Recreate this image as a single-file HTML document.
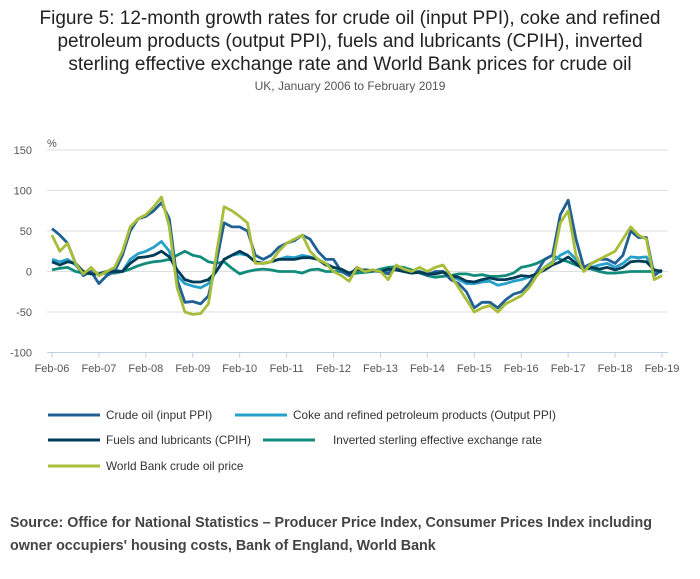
<!DOCTYPE html>
<html><head><meta charset="utf-8"><style>
body{margin:0;background:#fff;width:700px;height:574px;overflow:hidden;font-family:"Liberation Sans",sans-serif;}
</style></head><body>
<svg width="700" height="574" xmlns="http://www.w3.org/2000/svg">
<g font-size="19" fill="#222" text-anchor="middle">
<text x="350" y="24">Figure 5: 12-month growth rates for crude oil (input PPI), coke and refined</text>
<text x="350" y="47">petroleum products (output PPI), fuels and lubricants (CPIH), inverted</text>
<text x="350" y="70">sterling effective exchange rate and World Bank prices for crude oil</text>
</g>
<text x="350" y="90" font-size="12" fill="#555" text-anchor="middle">UK, January 2006 to February 2019</text>
<text x="47" y="147" font-size="11" fill="#555">%</text>
<g id="grid"></g><g id="axes"></g><g id="series"></g>
<g id="legend" font-size="11.8" fill="#333"></g>
<g font-size="14.3" font-weight="bold" fill="#444">
<text x="10" y="527">Source: Office for National Statistics – Producer Price Index, Consumer Prices Index including</text>
<text x="10" y="550">owner occupiers' housing costs, Bank of England, World Bank</text>
</g>
</svg>
<script>
const xLabels=["Feb-06","Feb-07","Feb-08","Feb-09","Feb-10","Feb-11","Feb-12","Feb-13","Feb-14","Feb-15","Feb-16","Feb-17","Feb-18","Feb-19"];
const yTicks=[150,100,50,0,-50,-100];
const seriesNames=["Crude oil (input PPI)","Coke and refined petroleum products (Output PPI)","Fuels and lubricants (CPIH)","Inverted sterling effective exchange rate","World Bank crude oil price"];
// values every 2 months from Feb-06 to Feb-19
const sterling=[2,4,5,0,-2,-3,-3,-2,-2,0,3,7,10,12,13,15,20,25,20,18,12,10,12,4,-3,0,2,3,2,0,0,0,-2,2,3,0,0,0,-3,-2,-1,0,3,5,6,5,2,-2,-5,-7,-6,-5,-3,-3,-5,-4,-6,-6,-5,-2,5,7,10,15,20,15,12,8,5,3,0,-2,-2,-1,0,0,0,0,0];
const coke=[15,12,15,8,-2,-3,-3,0,2,0,15,22,25,30,37,25,-5,-15,-18,-20,-15,0,15,20,22,20,12,10,12,15,18,17,20,18,15,10,5,2,-3,2,2,1,0,1,2,0,-1,0,-3,-1,0,-5,-10,-15,-15,-13,-12,-17,-15,-12,-10,-7,-3,5,12,20,25,15,3,5,8,10,5,10,18,17,18,0,0];
const fuels=[12,8,12,10,0,-3,-3,0,0,0,10,17,18,20,25,18,2,-10,-13,-13,-10,0,15,20,25,20,12,10,12,15,15,15,17,17,15,8,5,3,-2,2,2,1,0,3,2,0,-2,-1,-3,-3,-1,-5,-7,-12,-13,-10,-8,-10,-10,-8,-5,-6,-3,2,8,12,18,10,2,5,3,5,2,5,12,13,12,2,0];
const crude=[53,45,35,10,-5,0,-15,-5,0,20,50,65,68,75,85,65,-10,-38,-37,-40,-30,10,60,55,55,50,20,15,20,30,35,38,45,40,25,15,15,0,-5,5,0,2,0,-3,5,0,-2,0,-5,0,0,-10,-15,-25,-45,-38,-38,-45,-35,-28,-25,-15,0,15,20,70,88,40,5,10,15,15,10,20,50,42,42,-5,2];
const worldBank=[45,25,35,10,-3,5,-5,0,5,25,55,65,70,80,92,55,-20,-50,-53,-52,-40,20,80,75,68,60,10,10,12,25,35,40,45,25,15,10,0,-5,-12,5,0,2,0,-10,8,3,0,5,0,5,8,-5,-20,-35,-50,-45,-42,-50,-40,-35,-30,-20,-5,5,10,60,75,20,0,10,15,20,25,40,55,45,40,-10,-5];
const colors=["#206095","#27a0cc","#003c57","#118c7b","#a8bd3a"];
const data=[crude,coke,fuels,sterling,worldBank];
const NS="http://www.w3.org/2000/svg";
const x0=52,x1=662,y0=271.5,pxPerUnit=0.81;
const xMonth=m=>x0+(x1-x0)*m/156;
const yVal=v=>y0-v*pxPerUnit;
function mk(tag,attrs,parent){const e=document.createElementNS(NS,tag);for(const k in attrs)e.setAttribute(k,attrs[k]);parent.appendChild(e);return e;}
const grid=document.getElementById('grid'),axes=document.getElementById('axes'),ser=document.getElementById('series'),leg=document.getElementById('legend');
yTicks.forEach(t=>{
  const l=mk('line',{x1:x0-5,x2:668,y1:yVal(t),y2:yVal(t),stroke:t===-100?'#bcd0e8':'#dedede','stroke-width':1},grid);
  
  
  const tx=mk('text',{x:32,y:yVal(t)+4,'font-size':11,fill:'#555','text-anchor':'end'},axes);
  tx.textContent=t;
  
  
});
xLabels.forEach((lab,i)=>{
  const x=xMonth(i*12);
  const tk=mk('line',{x1:x,x2:x,y1:yVal(-100),y2:yVal(-100)+5,stroke:'#bcd0e8'},axes);
  
  
  const tx=mk('text',{x:x,y:372,'font-size':11,fill:'#555','text-anchor':'middle'},axes);
  tx.textContent=lab;
  
  
});
const order=[3,1,0,2,4];
order.forEach(si=>{
  const pts=data[si].map((v,i)=>xMonth(i*2).toFixed(1)+','+yVal(v).toFixed(1)).join(' ');
  const p=mk('polyline',{points:pts,fill:'none',stroke:colors[si],'stroke-width':2.8,'stroke-linejoin':'round'},ser);
  
  
});
const legPos=[[48,415,106],[235,415,293],[48,440,106],[263,440,333],[48,466,106]];
seriesNames.forEach((n,i)=>{
  const [lx,ly,tx]=legPos[i];
  const g=mk('g',{},leg);
  
  
  mk('line',{x1:lx,x2:lx+52,y1:ly,y2:ly,stroke:colors[i],'stroke-width':3},g);
  const t=mk('text',{x:tx,y:ly+4},g);t.textContent=n;
});
</script>
</body></html>
